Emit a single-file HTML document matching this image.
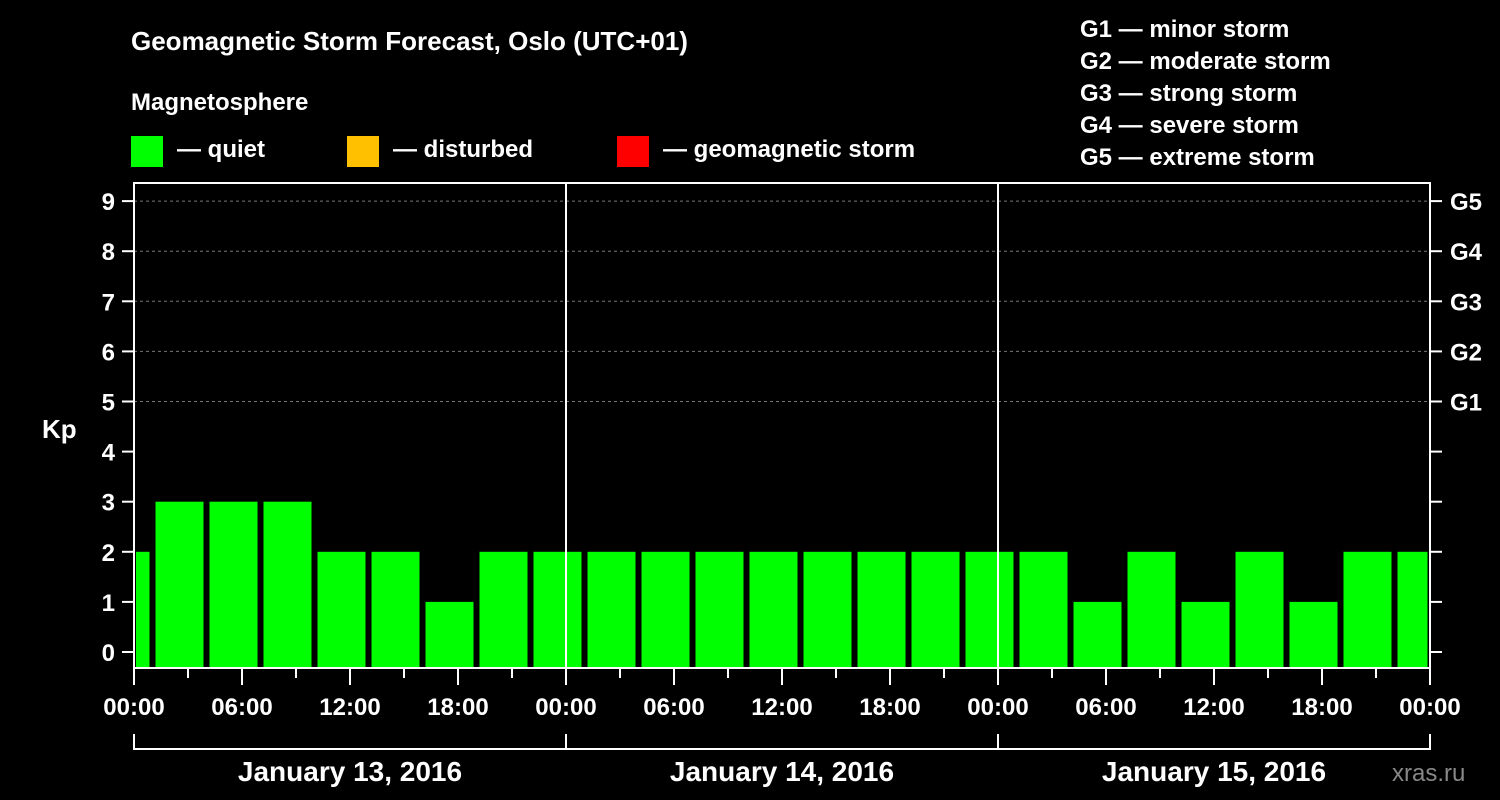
<!DOCTYPE html>
<html><head><meta charset="utf-8"><style>
body{margin:0;background:#000;}
svg{display:block;font-family:"Liberation Sans",sans-serif;font-weight:bold;}
</style></head><body>
<svg id="chart" width="1500" height="800">
<text x="131" y="50" font-size="26" fill="#fff">Geomagnetic Storm Forecast, Oslo (UTC+01)</text>
<text x="131" y="110" font-size="24" fill="#fff">Magnetosphere</text>
<g><rect x="131" y="136" width="32" height="31" fill="#00ff00"/><text x="177" y="157" font-size="24" fill="#fff">— quiet</text></g>
<g><rect x="347" y="136" width="32" height="31" fill="#ffc000"/><text x="393" y="157" font-size="24" fill="#fff">— disturbed</text></g>
<g><rect x="617" y="136" width="32" height="31" fill="#ff0000"/><text x="663" y="157" font-size="24" fill="#fff">— geomagnetic storm</text></g>
<g font-size="24" fill="#fff">
<text x="1080" y="37">G1 — minor storm</text>
<text x="1080" y="69">G2 — moderate storm</text>
<text x="1080" y="101">G3 — strong storm</text>
<text x="1080" y="133">G4 — severe storm</text>
<text x="1080" y="165">G5 — extreme storm</text>
</g>
<text x="42" y="438" font-size="26" fill="#fff">Kp</text>
<text x="1392" y="781" font-size="24" fill="#888" font-weight="normal">xras.ru</text>
<g id="plot"></g>
</svg>
<script>
const kpValues=[2,3,3,3,2,2,1,2,2,2,2,2,2,2,2,2,2,2,1,2,1,2,1,2,2];
const yTicks=[0,1,2,3,4,5,6,7,8,9];
const gLevels=[5,6,7,8,9];
const gLabels=["G1","G2","G3","G4","G5"];
const xTickLabels=["00:00","06:00","12:00","18:00"];
const dayLabels=["January 13, 2016","January 14, 2016","January 15, 2016"];
const L=134,R=1430,T=183,B=668,hourPx=(R-L)/72;
const X=h=>L+h*hourPx, Y=v=>652-v*50.1;
const ns="http://www.w3.org/2000/svg",g=document.getElementById('plot');
function mk(t,a,txt){const e=document.createElementNS(ns,t);for(const k in a)e.setAttribute(k,a[k]);if(txt!=null)e.textContent=txt;g.appendChild(e);return e;}
gLevels.forEach((v,i)=>{
 const l=mk('line',{x1:L,x2:R,y1:Y(v),y2:Y(v),stroke:'#777','stroke-dasharray':'3,3'});
 
 
 const t=mk('text',{x:1450,y:Y(v)+9,fill:'#fff','font-size':24},gLabels[i]);
 
 
});
kpValues.forEach((v,i)=>{
 const s=Math.max(0,-2+3*i),e=Math.min(72,1+3*i);
 const x0=X(s)+(s===0?2:3.5),x1=X(e)-2.5;
 const r=mk('rect',{x:x0,y:Y(v),width:x1-x0,height:B-Y(v),fill:'#00ff00'});
 
 
});
[1,2].forEach(d=>{const l=mk('line',{x1:X(24*d),x2:X(24*d),y1:T,y2:B,stroke:'#fff','stroke-width':2});
 
 });
const fr=mk('rect',{x:L,y:T,width:R-L,height:B-T,fill:'none',stroke:'#fff','stroke-width':2});


yTicks.forEach(v=>{
 mk('line',{x1:122,x2:L,y1:Y(v),y2:Y(v),stroke:'#fff','stroke-width':2});
 mk('line',{x1:R,x2:R+12,y1:Y(v),y2:Y(v),stroke:'#fff','stroke-width':2});
 const t=mk('text',{x:115,y:Y(v)+9,fill:'#fff','font-size':24,'text-anchor':'end'},v);
 
 
});
for(let h=0;h<=72;h+=3){
 mk('line',{x1:X(h),x2:X(h),y1:B,y2:h%6===0?685:678,stroke:'#fff','stroke-width':2});
 if(h%6===0){const t=mk('text',{x:X(h),y:715,fill:'#fff','font-size':24,'text-anchor':'middle'},h===72?xTickLabels[0]:xTickLabels[(h%24)/6]);
 
 }
}
mk('line',{x1:L,x2:R,y1:749,y2:749,stroke:'#fff','stroke-width':2});
[0,1,2,3].forEach(d=>mk('line',{x1:X(24*d),x2:X(24*d),y1:734,y2:750,stroke:'#fff','stroke-width':2}));
dayLabels.forEach((s,d)=>{const t=mk('text',{x:X(24*d+12),y:781,fill:'#fff','font-size':28,'text-anchor':'middle'},s);
 
 });
</script>
</body></html>
